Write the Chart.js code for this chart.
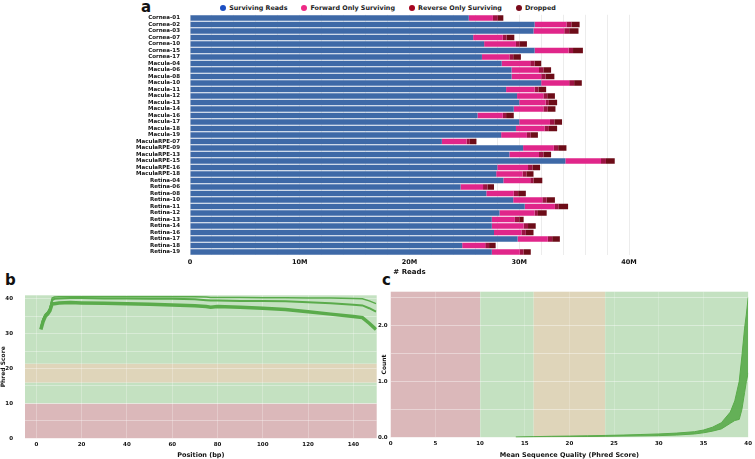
<!DOCTYPE html>
<html>
<head>
<meta charset="utf-8">
<script src="https://cdn.jsdelivr.net/npm/chart.js@4.4.0/dist/chart.umd.min.js"></script>
<style>
  body { margin: 0; width: 755px; height: 459px; position: relative; background: #fff; overflow: hidden;
         font-family: 'DejaVu Sans', sans-serif; }
  canvas { position: absolute; }
  .tag { position: absolute; font-weight: bold; font-size: 15px; line-height: 1; color: #111; }
  #legend { position: absolute; top: 5px; left: 0; width: 776px; display: flex; justify-content: center;
            font-size: 6.4px; font-weight: bold; color: #222; line-height: 6px; }
  #legend span.item { display: flex; align-items: center; margin: 0 7px; }
  #legend i { display: inline-block; width: 6px; height: 6px; border-radius: 50%; margin-right: 3px; }
</style>
</head>
<body>
<div class="tag" style="left:141px;top:0px">a</div>
<div class="tag" style="left:5px;top:273px">b</div>
<div class="tag" style="left:382px;top:273px">c</div>
<div id="legend"></div>
<canvas id="reads" width="520" height="280" style="left:130px;top:0px"></canvas>
<canvas id="perpos" width="382" height="179" style="left:0px;top:280px"></canvas>
<canvas id="perseq" width="390" height="179" style="left:365px;top:280px"></canvas>
<script>
// panel a - read counts per sample (millions)
const samples = ['Cornea-01','Cornea-02','Cornea-03','Cornea-07','Cornea-10','Cornea-15','Cornea-17',
  'Macula-04','Macula-06','Macula-08','Macula-10','Macula-11','Macula-12','Macula-13','Macula-14','Macula-16',
  'Macula-17','Macula-18','Macula-19','MaculaRPE-07','MaculaRPE-09','MaculaRPE-13','MaculaRPE-15','MaculaRPE-16',
  'MaculaRPE-18','Retina-04','Retina-06','Retina-08','Retina-10','Retina-11','Retina-12','Retina-13','Retina-14',
  'Retina-16','Retina-17','Retina-18','Retina-19'];
const surviving = [25.4,31.4,31.3,25.8,26.8,31.4,26.6,28.4,29.3,29.3,32.0,28.8,29.8,30.0,29.5,26.2,30.0,29.7,28.35,
  22.95,30.35,29.1,34.2,28.0,27.9,28.55,24.65,27.0,29.45,30.5,28.2,27.5,27.5,27.7,29.85,24.8,27.5];
const forwardOnly = [2.2,2.9,2.8,2.7,2.9,3.1,2.5,2.6,2.5,2.7,2.55,2.6,2.4,2.4,2.7,2.3,2.8,2.6,2.35,
  2.25,2.8,2.7,3.25,2.8,2.4,2.45,2.05,2.5,2.65,2.75,3.2,2.1,2.9,2.5,2.75,2.1,2.55];
const reverseOnly = [0.45,0.45,0.45,0.35,0.35,0.4,0.35,0.4,0.4,0.4,0.45,0.35,0.35,0.3,0.4,0.3,0.4,0.4,0.35,
  0.3,0.4,0.4,0.45,0.4,0.35,0.3,0.4,0.4,0.4,0.35,0.3,0.4,0.4,0.4,0.4,0.35,0.35];
const dropped = [0.5,0.75,0.85,0.7,0.65,0.9,0.7,0.6,0.7,0.8,0.7,0.7,0.7,0.75,0.7,0.7,0.7,0.75,0.65,
  0.6,0.75,0.7,0.8,0.7,0.65,0.8,0.6,0.7,0.75,0.85,0.8,0.4,0.7,0.7,0.7,0.6,0.65];
const seriesNames = ['Surviving Reads','Forward Only Surviving','Reverse Only Surviving','Dropped'];
const barColors = ['#3e69a7','#e0268a','#9c1343','#6d0c18'];
const legendColors = ['#1c4fc2','#ee2a86','#a6051f','#7a0a1b'];
const readTicks = [0,10,20,30,40];

// panel b - per base quality
const posB = [2,3,4,5,6,7,8,10,15,20,30,40,50,60,70,75,77,80,90,100,110,120,130,140,144,147,150];
const mainB = [31.2,33.5,35.0,35.6,36.6,38.6,38.6,38.8,38.9,38.8,38.7,38.6,38.4,38.2,38.0,37.8,37.6,37.8,37.6,37.3,36.9,36.3,35.6,34.9,34.6,33.0,31.2];
const midB = [31.6,34.0,35.4,36.0,37.0,39.6,40.0,40.1,40.2,40.2,40.1,40.1,40.0,40.0,39.9,39.6,39.5,39.5,39.4,39.4,39.3,39.0,38.7,38.3,38.1,37.3,36.3];
const topB = [31.8,34.2,35.6,36.2,37.3,40.2,40.5,40.6,40.6,40.6,40.6,40.6,40.6,40.6,40.6,40.5,40.4,40.4,40.4,40.3,40.3,40.2,40.2,40.1,40.0,39.4,38.6];
const posTicksB = [0,20,40,60,80,100,120,140];
const phredGridB = [0,5,10,15,20,25,30,35,40];
const phredBandsB = [[0,10,'#dbb8ba'],[10,16,'#c4e1c1'],[16,21.4,'#dfd5ba'],[21.4,41,'#c4e1c1']];

// panel c - per sequence quality
const qualC = [14,16,18,20,22,24,26,28,30,32,34,35,36,37,38,38.5,39,39.3,39.6,39.8,40];
const upperC = [0.005,0.012,0.018,0.022,0.027,0.033,0.04,0.05,0.06,0.075,0.1,0.13,0.18,0.26,0.45,0.65,1.0,1.45,1.95,2.2,2.5];
const lowerC = [0,0.004,0.008,0.011,0.014,0.018,0.022,0.026,0.03,0.04,0.06,0.08,0.11,0.15,0.25,0.3,0.32,0.5,0.8,1.0,1.15];
const qualTicksC = [0,5,10,15,20,25,30,35,40];
const countGridC = [0,0.5,1,1.5,2,2.5];
const qualBandsC = [[0,10,'#dbb8ba'],[10,16,'#c4e1c1'],[16,24,'#dfd5ba'],[24,40,'#c4e1c1']];

const lineGreen = '#5aab4b';
Chart.defaults.font.family = "'DejaVu Sans', sans-serif";
Chart.defaults.font.weight = 'bold';
Chart.defaults.color = '#111';

// legend for panel a
const legendEl = document.getElementById('legend');
seriesNames.forEach((name, i) => {
  const item = document.createElement('span');
  item.className = 'item';
  item.innerHTML = '<i style="background:' + legendColors[i] + '"></i>' + name;
  legendEl.appendChild(item);
});

// colored quality zones behind the plots
const bandsPlugin = {
  id: 'bands',
  beforeDraw(chart, args, opts) {
    if (!opts.bands) return;
    const { ctx, chartArea: a } = chart;
    const scale = chart.scales[opts.axis];
    ctx.save();
    opts.bands.forEach(([from, to, color]) => {
      const p1 = scale.getPixelForValue(from), p2 = scale.getPixelForValue(to);
      ctx.fillStyle = color;
      if (opts.axis === 'y') {
        ctx.fillRect(a.left, Math.min(p1, p2), a.right - a.left, Math.abs(p2 - p1));
      } else {
        ctx.fillRect(Math.min(p1, p2), a.top, Math.abs(p2 - p1), a.bottom - a.top);
      }
    });
    ctx.restore();
  }
};
Chart.register(bandsPlugin);

const fixTicks = values => scale => { scale.ticks = values.map(v => ({ value: v })); };

new Chart(document.getElementById('reads'), {
  type: 'bar',
  data: {
    labels: samples,
    datasets: [surviving, forwardOnly, reverseOnly, dropped].map((d, i) => ({
      label: seriesNames[i], data: d, backgroundColor: barColors[i], borderWidth: 0
    }))
  },
  options: {
    indexAxis: 'y',
    responsive: false,
    animation: false,
    layout: { padding: { top: 14.75, right: 21, left: 0, bottom: 0 } },
    datasets: { bar: { barPercentage: 0.85, categoryPercentage: 1 } },
    plugins: { legend: { display: false }, tooltip: { enabled: false } },
    scales: {
      x: {
        stacked: true, min: 0, max: 40,
        ticks: {
          stepSize: 2, autoSkip: false, maxRotation: 0, padding: 3, font: { size: 6.5 },
          callback: v => readTicks.includes(v) ? (v === 0 ? '0' : v + 'M') : ''
        },
        grid: { color: '#ececec', drawTicks: false },
        border: { display: false },
        title: { display: true, text: '# Reads', font: { size: 7 }, padding: { top: 0, bottom: 4 } },
        afterFit: s => { s.height = 24.75; }
      },
      y: {
        stacked: true,
        ticks: { autoSkip: false, padding: 2, font: { size: 5.5 }, color: '#111' },
        grid: { display: false },
        border: { display: false },
        afterFit: s => { s.width = 60; }
      }
    }
  }
});

const toPoints = (xs, ys) => xs.map((x, i) => ({ x: x, y: ys[i] }));

new Chart(document.getElementById('perpos'), {
  type: 'line',
  data: {
    datasets: [
      { data: toPoints(posB, topB), borderColor: lineGreen, borderWidth: 1.5 },
      { data: toPoints(posB, midB), borderColor: lineGreen, borderWidth: 2 },
      { data: toPoints(posB, mainB), borderColor: lineGreen, borderWidth: 3.5 }
    ]
  },
  options: {
    responsive: false,
    animation: false,
    layout: { padding: { top: 11.7, right: 5.3, left: 0, bottom: 0 } },
    elements: { point: { radius: 0 }, line: { tension: 0, fill: false } },
    plugins: { legend: { display: false }, tooltip: { enabled: false },
               bands: { axis: 'y', bands: phredBandsB } },
    scales: {
      x: {
        type: 'linear', min: -5, max: 150.3,
        afterBuildTicks: fixTicks(posTicksB),
        ticks: { padding: 3, font: { size: 5.5 }, maxRotation: 0 },
        grid: { color: 'rgba(255,255,255,0.25)', drawTicks: false },
        border: { display: false },
        title: { display: true, text: 'Position (bp)', font: { size: 6.5 }, padding: 0 },
        afterFit: s => { s.height = 20.7; }
      },
      y: {
        min: 0, max: 41,
        afterBuildTicks: fixTicks(phredGridB),
        ticks: { padding: 12, font: { size: 5.5 }, callback: v => v % 10 === 0 ? v : '' },
        grid: { color: 'rgba(255,255,255,0.35)', drawTicks: false },
        border: { display: false },
        title: { display: true, text: 'Phred Score', font: { size: 6 }, padding: 0 },
        afterFit: s => { s.width = 25; }
      }
    }
  }
});

new Chart(document.getElementById('perseq'), {
  type: 'line',
  data: {
    datasets: [
      { data: toPoints(qualC, upperC), borderColor: lineGreen, borderWidth: 1, fill: false },
      { data: toPoints(qualC, lowerC), borderColor: lineGreen, borderWidth: 1, fill: '-1',
        backgroundColor: 'rgba(90,171,75,0.9)' }
    ]
  },
  options: {
    responsive: false,
    animation: false,
    layout: { padding: { top: 11.7, right: 2, left: 0, bottom: 0 } },
    elements: { point: { radius: 0 }, line: { tension: 0 } },
    plugins: { legend: { display: false }, tooltip: { enabled: false }, filler: { propagate: false },
               bands: { axis: 'x', bands: qualBandsC } },
    scales: {
      x: {
        type: 'linear', min: 0, max: 40,
        afterBuildTicks: fixTicks(qualTicksC),
        ticks: { padding: 3, font: { size: 5.5 }, maxRotation: 0 },
        grid: { color: 'rgba(255,255,255,0.2)', drawTicks: false },
        border: { display: false },
        title: { display: true, text: 'Mean Sequence Quality (Phred Score)', font: { size: 6.5 }, padding: 0 },
        afterFit: s => { s.height = 21.7; }
      },
      y: {
        min: 0, max: 2.6,
        afterBuildTicks: fixTicks(countGridC),
        ticks: { padding: 3, font: { size: 5.5 }, callback: v => Number.isInteger(v) ? v.toFixed(1) : '' },
        grid: { color: 'rgba(255,255,255,0.4)', drawTicks: false },
        border: { display: false },
        title: { display: true, text: 'Count', font: { size: 6 }, padding: { top: 15.9, bottom: 0 } },
        afterFit: s => { s.width = 25.7; }
      }
    }
  }
});
</script>
</body>
</html>
